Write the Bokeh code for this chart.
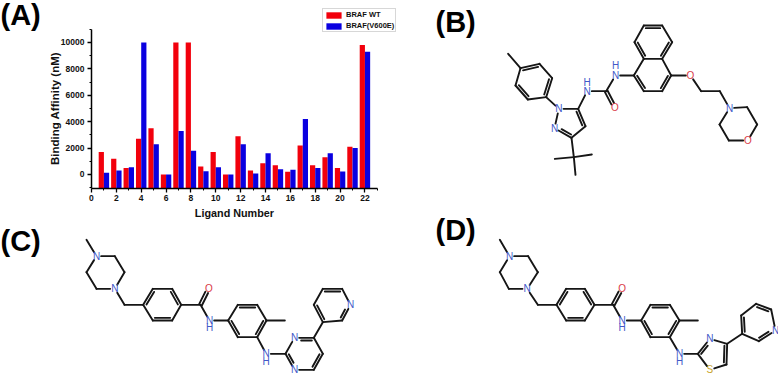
from math import pi
from bokeh.plotting import figure
from bokeh.layouts import column, row
from bokeh.models import FixedTicker, Label, Legend, LegendItem, ColumnDataSource, LinearAxis
from bokeh.core.properties import value
from bokeh.embed import file_html
from bokeh.resources import INLINE

# ---------------- Panel A data ----------------
ligands = list(range(1, 23))
braf_wt = [1700, 1200, 500, 2700, 3500, 0, 10000, 10000, 600, 1700, 0, 2900, 300, 850, 700, 200, 2200, 700, 1300, 500, 2100, 9800]
braf_v600e = [130, 300, 550, 10000, 2300, 0, 3300, 1800, 250, 550, 0, 2300, 80, 1600, 400, 350, 4200, 500, 1600, 230, 2000, 9300]
x_ticks = list(range(0, 23, 2))
x_minor = list(range(1, 24, 2))
y_ticks = list(range(0, 10001, 2000))
y_minor = list(range(-1000, 11001, 2000))

# ---------------- Structure drawings (drawing units) ----------------
B_atoms = dict(me=(233,160), a1=(270,203), a2=(327,190), a3=(365,233), a4=(347,290), a5=(292,297), a6=(255,255),
    N1=(385,325), N2=(372,383), c5=(443,325), c4=(465,377), c3=(423,412),
    Na=(470,272), CU=(527,272), OU=(553,322), Nb=(555,225),
    n1=(610,225), n2=(640,272), n3=(695,272), n4=(722,225), n4a=(695,175), n8a=(640,175), n8=(612,125), n7=(640,75), n6=(695,75), n5=(725,125),
    O1=(780,225), e1=(812,272), e2=(868,272), Nm=(897,323), m1=(950,320), m2=(980,372), Om=(952,420), m3=(895,420), m4=(867,372),
    tb=(430,470), t1=(373,475), t2=(484,462), t3=(435,523))
B_single = "me a1,a2 a3,a4 a5,a6 a1,a4 N1,N1 N2,N1 c5,c4 c3,c3 tb,tb t1,tb t2,tb t3,c5 Na,Na CU,CU Nb,Nb n1,n1 n8a,n4a n8a,n8 n7,n6 n5,n4a n4,n3 n2,n4 O1,O1 e1,e1 e2,e2 Nm,Nm m1,m1 m2,m2 Om,Om m3,m3 m4,m4 Nm"
B_double = "a1 a2,a3 a4,a5 a6,c5 c4,c3 N2,CU OU,n7 n6,n8a n8,n5 n4a,n1 n2,n3 n4"
B_rings = ["a1 a2 a3 a4 a5 a6", "N1 N2 c3 c4 c5", "n1 n2 n3 n4 n4a n8a", "n4a n5 n6 n7 n8 n8a"]
B_labels = [("Na","N"),("Nb","N"),("N1","N"),("N2","N"),("OU","O"),("O1","O"),("Om","O"),("Nm","N")]
B_hydrogens = [("H",470,245),("H",555,195)]

C_atoms = dict(me=(258,88), Na=(288,137), p1=(343,137), p2=(372,185), Nb=(343,235), p3=(288,235), p4=(258,185),
    ch=(372,283), r1=(428,283), r2=(457,235), r3=(515,235), r4=(542,283), r5=(515,330), r6=(457,330),
    CO=(600,283), O=(625,233), NH=(627,330), s1=(683,330), s2=(712,283), s3=(770,283), s4=(798,330), s5=(770,380), s6=(712,380),
    mm=(853,330), NH2=(797,430), q1=(855,430), Nq=(882,382), q2=(940,382), q3=(967,430), q4=(940,478), Nr=(882,478),
    y1=(967,335), y2=(940,283), y3=(967,235), y4=(1025,235), Ny=(1050,283), y5=(1025,330))
C_single = "me Na,Na p1,p1 p2,p2 Nb,Nb p3,p3 p4,p4 Na,Nb ch,ch r1,r2 r3,r4 r5,r6 r1,r4 CO,CO NH,NH s1,s1 s2,s3 s4,s5 s6,s4 mm,s5 NH2,NH2 q1,q1 Nq,q2 q3,q4 Nr,q2 y1,y2 y3,y4 Ny,y5 y1"
C_double = "r1 r2,r3 r4,r5 r6,CO O,s2 s3,s1 s6,s4 s5,q1 Nr,Nq q2,q3 q4,y1 y2,y3 y4,Ny y5"
C_rings = ["p1 p2 Nb p3 p4 Na", "r1 r2 r3 r4 r5 r6", "s1 s2 s3 s4 s5 s6", "q1 Nq q2 q3 q4 Nr", "y1 y2 y3 y4 Ny y5"]
C_labels = [("Na","N"),("Nb","N"),("O","O"),("NH","N"),("NH2","N"),("Nq","N"),("Nr","N"),("Ny","N")]
C_hydrogens = [("H",627,352),("H",797,452)]

D_atoms = dict(me=(238,88), Na=(267,137), p1=(323,137), p2=(352,185), Nb=(320,235), p3=(265,235), p4=(238,185),
    ch=(352,283), r1=(408,283), r2=(437,235), r3=(493,235), r4=(522,283), r5=(493,330), r6=(437,330),
    CO=(578,283), O=(605,233), NH=(605,330), s1=(662,330), s2=(690,283), s3=(748,283), s4=(777,330), s5=(748,380), s6=(690,380),
    mm=(832,330), NH2=(777,430), q1=(832,430), Nq=(868,385), q2=(920,400), q3=(918,462), Sq=(868,478),
    y1=(965,370), y2=(962,315), y3=(1007,280), y4=(1052,297), Ny=(1065,360), y5=(1015,392))
D_single = "me Na,Na p1,p1 p2,p2 Nb,Nb p3,p3 p4,p4 Na,Nb ch,ch r1,r2 r3,r4 r5,r6 r1,r4 CO,CO NH,NH s1,s1 s2,s3 s4,s5 s6,s4 mm,s5 NH2,NH2 q1,Nq q2,q3 Sq,Sq q1,q2 y1,y2 y3,y4 Ny,y5 y1"
D_double = "r1 r2,r3 r4,r5 r6,CO O,s2 s3,s1 s6,s4 s5,q1 Nq,q2 q3,y1 y2,y3 y4,Ny y5"
D_rings = ["p1 p2 Nb p3 p4 Na", "r1 r2 r3 r4 r5 r6", "s1 s2 s3 s4 s5 s6", "q1 Nq q2 q3 Sq", "y1 y2 y3 y4 Ny y5"]
D_labels = [("Na","N"),("Nb","N"),("O","O"),("NH","N"),("NH2","N"),("Nq","N"),("Ny","N"),("Sq","S")]
D_hydrogens = [("H",605,352),("H",777,452)]

FONT = "Liberation Sans"
ATOM_COLORS = {"N": "#4258c8", "O": "#d93a46", "S": "#c9a42a", "H": "#4258c8"}
BOND = "#161616"
TRIM = 14
S = 3.0  # drawing units per pixel


def draw_molecule(p, atoms, single, double, rings, labels, hydrogens):
    labelled = {a for a, _ in labels}
    x0, y0, x1, y1 = [], [], [], []

    def end(a, b):
        (ax, ay), (bx, by) = atoms[a], atoms[b]
        L = ((bx-ax)**2 + (by-ay)**2)**0.5
        ux, uy = (bx-ax)/L, (by-ay)/L
        ta = TRIM if a in labelled else 0
        tb = TRIM if b in labelled else 0
        return ax+ux*ta, ay+uy*ta, bx-ux*tb, by-uy*tb, ux, uy

    def add(a, b, ox=0, oy=0, shrink=0):
        ax, ay, bx, by, ux, uy = end(a, b)
        x0.append(ax+ox+ux*shrink); y0.append(ay+oy+uy*shrink)
        x1.append(bx+ox-ux*shrink); y1.append(by+oy-uy*shrink)

    for pair in single.split(","):
        a, b = pair.split()
        add(a, b)
    for pair in double.split(","):
        a, b = pair.split()
        ring = next((r.split() for r in rings if a in r.split() and b in r.split()), None)
        _, _, _, _, ux, uy = end(a, b)
        nx, ny = -uy, ux
        if ring:
            add(a, b)
            cx = sum(atoms[n][0] for n in ring)/len(ring)
            cy = sum(atoms[n][1] for n in ring)/len(ring)
            mx = (atoms[a][0]+atoms[b][0])/2; my = (atoms[a][1]+atoms[b][1])/2
            sgn = 1 if (cx-mx)*nx + (cy-my)*ny > 0 else -1
            add(a, b, nx*sgn*8, ny*sgn*8, 6)
        else:
            add(a, b, nx*4.5, ny*4.5)
            add(a, b, -nx*4.5, -ny*4.5)
    p.segment(x0, y0, x1, y1, line_color=BOND, line_width=1.9, line_cap="round")
    tx = [atoms[a][0] for a, _ in labels] + [h[1] for h in hydrogens]
    ty = [atoms[a][1] for a, _ in labels] + [h[2] for h in hydrogens]
    tt = [t for _, t in labels] + [h[0] for h in hydrogens]
    src = ColumnDataSource(dict(x=tx, y=ty, t=tt, c=[ATOM_COLORS[t] for t in tt]))
    p.text("x", "y", text="t", text_color="c", source=src, text_font=value(FONT), text_font_size="10px",
           text_align="center", text_baseline="middle")


def panel(width, height, x_start, y_start):
    p = figure(width=width, height=height, output_backend="svg", toolbar_location=None,
               x_range=(x_start, x_start+width*S), y_range=(y_start+height*S, y_start),
               x_axis_location=None, y_axis_location=None,
               min_border=0, min_border_left=0, min_border_right=0, min_border_top=0, min_border_bottom=0)
    p.outline_line_color = None
    p.grid.visible = False
    return p


def tag(p, text, x, y):
    p.add_layout(Label(x=x, y=y, text=text, text_font=FONT, text_font_style="bold", text_font_size="29px",
                       text_color="#000000", text_baseline="middle"))


# ---------------- Panel A ----------------
pA = figure(width=420, height=220, output_backend="svg", toolbar_location=None,
            x_range=(-7.32, 26.47), y_range=(-3485, 13180),
            x_axis_location=None, y_axis_location=None,
            min_border=0, min_border_left=0, min_border_right=0, min_border_top=0, min_border_bottom=0)
pA.outline_line_color = None
pA.grid.visible = False
red = pA.vbar(x=[i-0.21 for i in ligands], top=braf_wt, bottom=-1030, width=0.42, color="#f2000c", line_color=None)
blue = pA.vbar(x=[i+0.21 for i in ligands], top=braf_v600e, bottom=-1030, width=0.42, color="#0a00e0", line_color=None)
x_axis = LinearAxis(fixed_location=-1030, bounds=(0, 23), ticker=FixedTicker(ticks=x_ticks, minor_ticks=x_minor))
y_axis = LinearAxis(fixed_location=0, bounds=(-1030, 11000), ticker=FixedTicker(ticks=y_ticks, minor_ticks=y_minor))
for ax in (x_axis, y_axis):
    ax.axis_line_color = "#000000"
    ax.axis_line_width = 1.5
    ax.major_tick_line_color = "#000000"
    ax.major_tick_line_width = 1.3
    ax.minor_tick_line_color = "#000000"
    ax.major_tick_out = 4
    ax.major_tick_in = 0
    ax.minor_tick_out = 2
    ax.minor_tick_in = 0
    ax.major_label_text_font = FONT
    ax.major_label_text_font_style = "bold"
    ax.major_label_text_font_size = "8.5px"
    ax.major_label_text_color = "#111111"
    ax.major_label_standoff = 3
pA.add_layout(x_axis, "below")
pA.add_layout(y_axis, "left")
pA.add_layout(Label(x=11.5, y=-2900, text="Ligand Number", text_font=FONT, text_font_style="bold",
                    text_font_size="10.8px", text_color="#111111", text_align="center", text_baseline="middle"))
pA.add_layout(Label(x=-2.9, y=5000, text="Binding Affinity (nM)", text_font=FONT, text_font_style="bold", angle=pi/2,
                    text_font_size="11.5px", text_color="#111111", text_align="center", text_baseline="middle"))
legend = Legend(items=[LegendItem(label="BRAF WT", renderers=[red]), LegendItem(label="BRAF(V600E)", renderers=[blue])],
                location=(322, 188), orientation="vertical", glyph_width=19, glyph_height=8,
                label_text_font=FONT, label_text_font_style="bold", label_text_font_size="7.5px",
                label_text_color="#111111", label_standoff=3, label_height=8, label_width=40,
                spacing=2, padding=1, margin=0, border_line_color="#b0b0b0", border_line_width=1,
                background_fill_color="#ffffff", background_fill_alpha=1)
pA.add_layout(legend, "center")
tag(pA, "(A)", -7.32, 12080)

# ---------------- Panels B, C, D ----------------
pB = panel(358, 212, -30, 0)
draw_molecule(pB, B_atoms, B_single, B_double, B_rings, B_labels, B_hydrogens)
tag(pB, "(B)", 15, 65)

pC = panel(420, 154, 0, 30)
draw_molecule(pC, C_atoms, C_single, C_double, C_rings, C_labels, C_hydrogens)
tag(pC, "(C)", 0, 90)

pD = panel(358, 162, 0, 6)
draw_molecule(pD, D_atoms, D_single, D_double, D_rings, D_labels, D_hydrogens)
tag(pD, "(D)", 45, 58)

layout = row(column(pA, pC, spacing=0), column(pB, pD, spacing=0), spacing=0)
open("out.html", "w").write(file_html(layout, INLINE))
